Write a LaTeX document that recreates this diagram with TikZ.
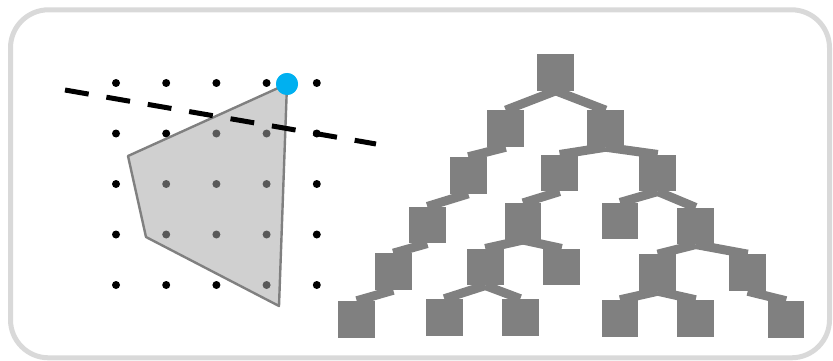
\documentclass[tikz,border=0pt]{standalone}
\usetikzlibrary{positioning}
\definecolor{framegray}{HTML}{D9D9D9}
\definecolor{treegray}{HTML}{808080}
\definecolor{hullfill}{HTML}{A7A7A7}
\definecolor{apexblue}{HTML}{00B0F0}
\begin{document}
\begin{tikzpicture}[x=1pt,y=-1pt]
\tikzstyle{leaf}=[fill=treegray,minimum size=36.7pt,inner sep=0pt]
\tikzstyle{branch}=[draw=treegray,line width=9pt]
\tikzstyle{pt}=[circle,fill=black,inner sep=0pt,minimum size=8pt]
\useasboundingbox (0,0) rectangle (833,361);
\draw[framegray,line width=5pt,rounded corners=38pt] (10.5,9.8) rectangle (829.5,357.8);

\foreach \i in {0,...,4}
  \foreach \j in {0,...,4}
    \node[pt] at (116+50.2*\i,83+50.5*\j) {};
\node[circle,fill=apexblue,minimum size=22pt,inner sep=0pt] (apex) at (287,84) {};
\coordinate (h1) at (128,156);
\coordinate (h2) at (146,237);
\coordinate (h3) at (279,306);
\filldraw[fill=hullfill,fill opacity=0.533,draw=treegray,line width=2.4pt,line join=round]
  (apex.center) -- (h1) -- (h2) -- (h3) -- cycle;
\coordinate (cutL) at (65,90);
\coordinate (cutR) at (376,144);
\draw[line width=5pt,dash pattern=on 24pt off 18pt] (cutL) -- (cutR);
\node[circle,fill=apexblue,minimum size=22pt,inner sep=0pt] at (apex) {};

\node[leaf] (root) at (555.7,72.3) {};
\node[leaf] (a1) at (505.7,128.7) {};
\node[leaf] (a2) at (605.7,128.7) {};
\node[leaf] (b1) at (468.3,175.3) {};
\node[leaf] (b2) at (559.7,173) {};
\node[leaf] (b3) at (657.7,173) {};
\node[leaf] (c1) at (427.3,225) {};
\node[leaf] (c2) at (523,221.5) {};
\node[leaf] (c3) at (620,221) {};
\node[leaf] (c4) at (695.7,226) {};
\node[leaf] (d1) at (393.3,271.7) {};
\node[leaf] (d2) at (485.3,267) {};
\node[leaf] (d3) at (561.7,267) {};
\node[leaf] (d4) at (657.7,272.7) {};
\node[leaf] (d5) at (747.7,272.7) {};
\node[leaf] (e1) at (356.7,319.3) {};
\node[leaf] (e2) at (444.3,317.3) {};
\node[leaf] (e3) at (520.3,317.3) {};
\node[leaf] (e4) at (620,318.3) {};
\node[leaf] (e5) at (695.7,318.3) {};
\node[leaf] (e6) at (786,319.3) {};

\draw[branch] (root.south) -- (a1.north);
\draw[branch] (root.south) -- (a2.north);
\draw[branch] (a1.south) -- (b1.north);
\draw[branch] (a2.south) -- (b2.north);
\draw[branch] (a2.south) -- (b3.north);
\draw[branch] (b1.south) -- (c1.north);
\draw[branch] (b2.south) -- (c2.north);
\draw[branch] (b3.south) -- (c3.north);
\draw[branch] (b3.south) -- (c4.north);
\draw[branch] (c1.south) -- (d1.north);
\draw[branch] (c2.south) -- (d2.north);
\draw[branch] (c2.south) -- (d3.north);
\draw[branch] (c4.south) -- (d4.north);
\draw[branch] (c4.south) -- (d5.north);
\draw[branch] (d1.south) -- (e1.north);
\draw[branch] (d2.south) -- (e2.north);
\draw[branch] (d2.south) -- (e3.north);
\draw[branch] (d4.south) -- (e4.north);
\draw[branch] (d4.south) -- (e5.north);
\draw[branch] (d5.south) -- (e6.north);
\end{tikzpicture}
\end{document}
